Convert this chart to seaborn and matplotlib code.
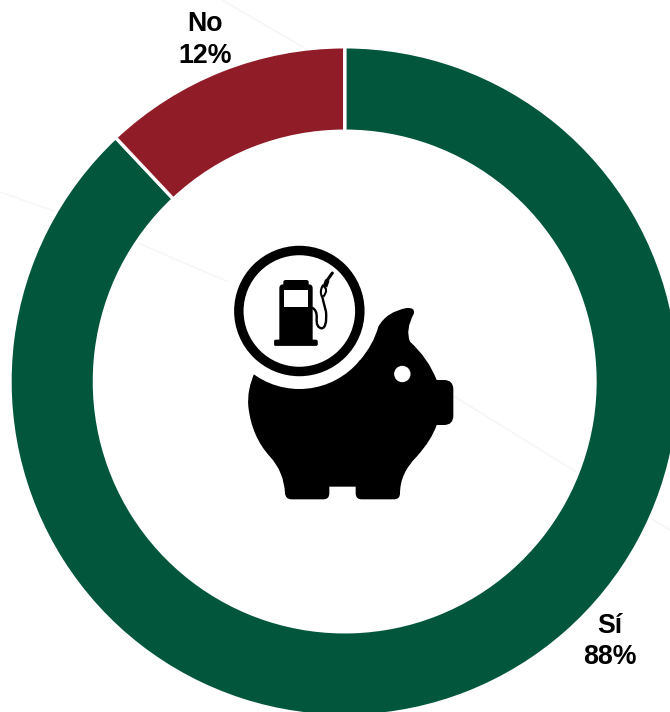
import matplotlib
matplotlib.use('Agg')
import matplotlib.pyplot as plt
import seaborn as sns
from matplotlib.patches import Circle, FancyBboxPatch, PathPatch, Rectangle
from matplotlib.path import Path

# Data
categories = ['Sí', 'No']
values = [88, 12]
colors = ['#02563C', '#901C27']
label_pos = {'Sí': (610, 641.5), 'No': (205, 40)}

sns.set_theme(style='white')
plt.rcParams['font.family'] = ['Liberation Sans', 'DejaVu Sans']

W, H = 670, 712
fig = plt.figure(figsize=(W / 100, H / 100), dpi=100)
ax = fig.add_axes([0, 0, 1, 1])


# picture pixels -> axes coords (y goes up here)
def px(x, y):
    return (x, H - y)


# the piggy was measured on a 3x crop starting at (220, 230)
def zm(x, y):
    return (220 + x / 3, H - (230 + y / 3))


# the pump was measured on a 3x crop starting at (270, 265)
def zp(x, y):
    return (270 + x / 3, H - (265 + y / 3))


# faint background lines
for xs, ys in [((0, 54), (192, 211)), ((138, 240), (243, 287)),
               ((222, 303), (0, 47)), ((363, 460), (340, 400)),
               ((460, 670), (400, 530))]:
    ax.plot(xs, [H - y for y in ys], color='#f6f6f6', lw=1.2, zorder=0)

# donut
ax.pie(values, colors=colors, startangle=90, counterclock=False,
       radius=334.7, center=px(344.7, 381.5),
       wedgeprops=dict(width=84.4, edgecolor='white', linewidth=2.4))

for name, val in zip(categories, values):
    x, y = label_pos[name]
    ax.text(x, H - y, f'{name}\n{val}%', ha='center', va='center',
            fontsize=19.3, fontweight='bold', color='black', linespacing=1.27)

# piggy body, smooth outline through measured points
M, L, C = Path.MOVETO, Path.LINETO, Path.CURVE3
body = [
    (M, (105, 425)),
    (C, (80, 480)), (C, (85, 530)),
    (C, (95, 620)), (C, (150, 680)),
    (C, (192, 725)), (C, (195, 790)),
    (C, (197, 808)), (C, (215, 808)),
    (L, (310, 808)),
    (C, (328, 808)), (C, (328, 790)),
    (L, (328, 770)),
    (L, (407, 770)),
    (L, (407, 790)),
    (C, (407, 808)), (C, (425, 808)),
    (L, (522, 808)),
    (C, (540, 808)), (C, (540, 790)),
    (C, (540, 730)), (C, (590, 680)),
    (C, (635, 630)), (C, (650, 585)),
    (L, (672, 585)),
    (C, (700, 585)), (C, (700, 557)),
    (L, (700, 478)),
    (C, (700, 450)), (C, (672, 450)),
    (L, (650, 450)),
    (C, (625, 385)), (C, (570, 335)),
    (C, (555, 300)), (C, (582, 250)),
    (C, (585, 232)), (C, (560, 234)),
    (C, (500, 245)), (C, (475, 290)),
    (C, (460, 345)), (C, (420, 390)),
    (L, (238, 300)),
    (L, (105, 425)),
]
ax.add_patch(PathPatch(Path([zm(*p) for _, p in body], [c for c, _ in body]),
                       facecolor='black', edgecolor='none', zorder=3))

# eye
ax.add_patch(Circle(zm(547, 432), 8.2, facecolor='white', edgecolor='none', zorder=4))

# badge with gap around it
ax.add_patch(Circle(zm(238, 243), 78, facecolor='white', edgecolor='none', zorder=4))
ax.add_patch(Circle(zm(238, 243), 60.5, facecolor='white', edgecolor='black', linewidth=6.8, zorder=5))

# fuel pump
pump = [(M, (28, 225)), (L, (28, 70)), (C, (28, 58)), (C, (40, 58)),
        (L, (40, 50)), (C, (40, 45)), (C, (48, 45)), (L, (108, 45)),
        (C, (116, 45)), (C, (116, 50)), (L, (116, 58)), (C, (128, 58)),
        (C, (128, 70)), (L, (128, 225)), (L, (28, 225))]
ax.add_patch(PathPatch(Path([zp(*p) for _, p in pump], [c for c, _ in pump]),
                       facecolor='black', edgecolor='none', zorder=6))
x0, y0 = zp(42, 125)
x1, y1 = zp(115, 75)
ax.add_patch(Rectangle((x0, y0), x1 - x0, y1 - y0, facecolor='white', edgecolor='none', zorder=7))
x0, y0 = zp(10, 245)
x1, y1 = zp(145, 222)
ax.add_patch(FancyBboxPatch((x0 + 1, y0 + 1), x1 - x0 - 2, y1 - y0 - 2,
                            boxstyle='round,pad=0,rounding_size=1.5',
                            facecolor='black', edgecolor='black', lw=0.5, zorder=6))

# hose
hose = [(M, (126, 128)), (C, (142, 135)), (C, (140, 160)),
        (C, (138, 188)), (C, (155, 190)), (C, (172, 188)), (C, (168, 140)),
        (C, (160, 110)), (C, (156, 92))]
ax.add_patch(PathPatch(Path([zp(*p) for _, p in hose], [c for c, _ in hose]),
                       facecolor='none', edgecolor='black', lw=1.7, zorder=6))
# nozzle loop and grip
loop = [(M, (156, 95)), (C, (148, 80)), (C, (158, 62)),
        (C, (178, 72)), (C, (160, 95))]
ax.add_patch(PathPatch(Path([zp(*p) for _, p in loop], [c for c, _ in loop]),
                       facecolor='none', edgecolor='black', lw=1.5, zorder=6))
ax.plot(*zip(zp(165, 65), zp(172, 45)), color='black', lw=3.4, solid_capstyle='butt', zorder=6)
ax.plot(*zip(zp(172, 45), zp(187, 24)), color='black', lw=2.2, solid_capstyle='round', zorder=6)

ax.set_xlim(0, W)
ax.set_ylim(0, H)
ax.set_aspect('equal')
ax.axis('off')

fig.savefig('out.png', dpi=100, facecolor='white')
